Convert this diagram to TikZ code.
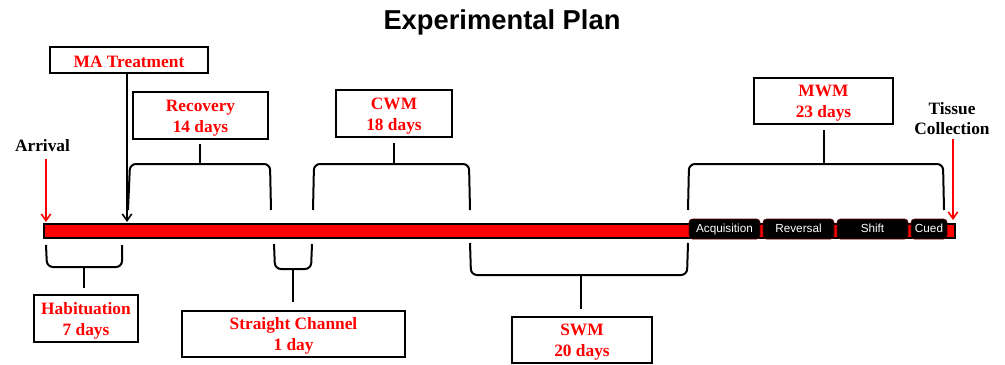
\documentclass[tikz,border=0pt]{standalone}
\usepackage{fontspec}
\setmainfont{Liberation Serif}
\newfontfamily\arialf{Liberation Sans}
\usetikzlibrary{arrows.meta}
\definecolor{rd}{RGB}{255,0,0}
\tikzset{
  lbl/.style={draw=black, line width=1.5pt, fill=white, inner sep=0pt, align=center,
    text=rd, font=\fontsize{13}{15.6}\selectfont\bfseries, text height=24.8pt, text depth=0pt},
  lblone/.style={lbl, text height=10.5pt},
  plain/.style={inner sep=0pt, align=center, font=\fontsize{13}{15.6}\selectfont\bfseries},
  brk/.style={draw=black, line width=1.5pt, rounded corners=4.5pt},
  stem/.style={draw=black, line width=1.5pt},
  phase/.style={fill=black, draw=rd!40!black, line width=0.4pt, rounded corners=2.5pt,
    inner sep=0pt, text=white, font=\arialf\fontsize{8.8}{10}\selectfont, minimum height=15pt,
    text height=6.5pt, text depth=1.9pt},
  redarr/.style={draw=rd, line width=1.2pt, -{Straight Barb[length=5pt,width=7pt]}},
  blkarr/.style={draw=black, line width=1.2pt, -{Straight Barb[length=5pt,width=7pt]}},
}
\begin{document}
\begin{tikzpicture}[x=0.75pt,y=-0.75pt]
\useasboundingbox (0,0) rectangle (1005,364);
% title
\node[font=\arialf\fontsize{20.5}{24}\selectfont\bfseries] (title) at (502,22) {Experimental Plan};
% timeline bar
\node[draw=black, fill=rd, line width=1.1pt, inner sep=0pt, minimum width=683.25pt, minimum height=10.5pt] (bar) at (499.5,231) {};
% MWM phases
\node[phase, minimum width=53.25pt] (acq) at (724.5,229) {Acquisition};
\node[phase, minimum width=53.25pt] (rev) at (798.5,229) {Reversal};
\node[phase, minimum width=53.25pt] (shf) at (872.5,229) {Shift};
\node[phase, minimum width=27pt] (cue) at (929,229) {Cued};
% labels
\node[lblone, minimum width=118.5pt, minimum height=19.5pt] (ma) at (129,60) {MA Treatment};
\node[lbl, minimum width=101.25pt, minimum height=35.25pt] (rec) at (200.5,115.5) {Recovery\\14 days};
\node[lbl, minimum width=87pt, minimum height=35.25pt] (cwm) at (394,113.5) {CWM\\18 days};
\node[lbl, minimum width=104.25pt, minimum height=34.5pt] (mwm) at (823.5,101) {MWM\\23 days};
\node[lbl, minimum width=78pt, minimum height=35.25pt] (hab) at (86,318.5) {Habituation\\7 days};
\node[lbl, minimum width=167.25pt, minimum height=34.5pt] (sc) at (293.5,334) {Straight Channel\\1 day};
\node[lbl, minimum width=105pt, minimum height=34.5pt] (swm) at (582,340) {SWM\\20 days};
\node[plain] (arr) at (42.5,146) {Arrival};
\node[plain] (tis) at (952,118.5) {Tissue\\Collection};
% arrows
\coordinate (arrTip) at (46,222);
\coordinate (maTip) at (127,222);
\coordinate (tisTip) at (953,220);
\draw[redarr] ([yshift=-5pt]arr.south -| arrTip) -- (arrTip);
\draw[redarr] ([yshift=-3pt]tis.south -| tisTip) -- (tisTip);
\draw[blkarr] (ma.south -| maTip) -- (maTip);
% brackets above
\coordinate (recB) at (200,164);
\draw[brk] (128,210) -- (130,164) -- (270,164) -- (271,210);
\draw[stem] ([yshift=-3pt]rec.south -| recB) -- (recB);
\coordinate (cwmB) at (394,164);
\draw[brk] (313,210) -- (314,164) -- (469,164) -- (470,210);
\draw[stem] ([yshift=-4pt]cwm.south) -- (cwmB);
\coordinate (mwmB) at (824,164);
\draw[brk] (688,210) -- (689,164) -- (943,164) -- (944,210);
\draw[stem] ([yshift=-4pt]mwm.south -| mwmB) -- (mwmB);
% brackets below
\coordinate (habB) at (84,267);
\draw[brk] (46,245) -- (47,267) -- (122,267) -- (122,245);
\draw[stem] (habB) -- ([yshift=4.5pt]hab.north -| habB);
\coordinate (scB) at (293,269);
\draw[brk] (274,244) -- (275,269) -- (311,269) -- (312,244);
\draw[stem] (scB) -- ([yshift=6pt]sc.north -| scB);
\coordinate (swmB) at (581,275);
\draw[brk] (470,243) -- (471,275) -- (687,275) -- (688,243);
\draw[stem] (swmB) -- ([yshift=5pt]swm.north -| swmB);
\end{tikzpicture}
\end{document}
